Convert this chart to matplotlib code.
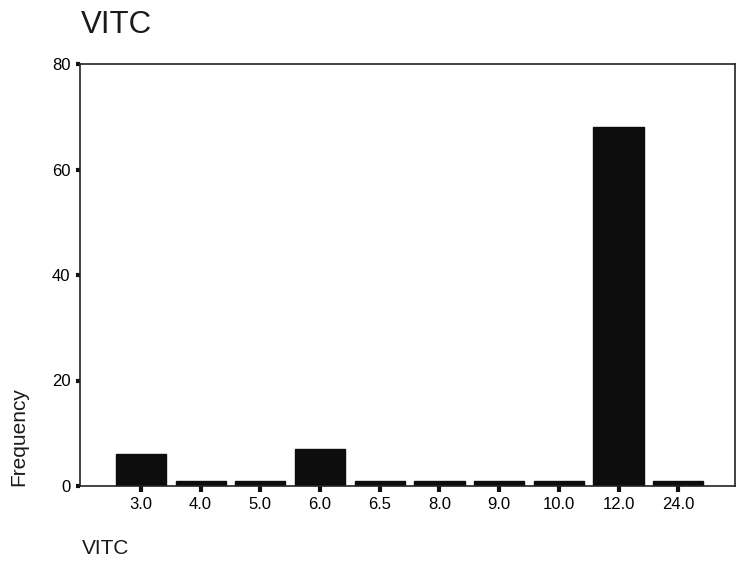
import matplotlib
matplotlib.use("Agg")
import matplotlib.pyplot as plt

plt.rcParams['font.family'] = ['Liberation Sans', 'DejaVu Sans']

categories = ['3.0', '4.0', '5.0', '6.0', '6.5', '8.0', '9.0', '10.0', '12.0', '24.0']
frequency = [6, 1, 1, 7, 1, 1, 1, 1, 68, 1]
y_ticks = [0, 20, 40, 60, 80]

fig = plt.figure(figsize=(7.38, 5.67), dpi=100)
ax = fig.add_axes([80 / 738, 1 - 486 / 567, 655 / 738, 422 / 567])

x = range(len(categories))
ax.bar(x, frequency, width=0.84, color='#0d0d0d', edgecolor='#0d0d0d')

ax.set_xlim(-1.02, 9.95)
ax.set_ylim(0, 80)
ax.set_xticks(list(x))
ax.set_xticklabels(categories, fontsize=12)
ax.set_yticks(y_ticks)
ax.set_yticklabels([str(t) for t in y_ticks], fontsize=12)
ax.tick_params(axis='x', direction='out', length=4, width=3, color='#111111', pad=4)
ax.tick_params(axis='y', direction='out', length=3, width=3, color='#111111', pad=4)

for s in ax.spines.values():
    s.set_color('#222222')
    s.set_linewidth(1.2)

fig.text(81 / 738, 1 - 25 / 567, 'VITC', fontsize=22.5, va='center', ha='left', color='#1a1a1a')
fig.text(82 / 738, 1 - 548 / 567, 'VITC', fontsize=15, va='center', ha='left', color='#1a1a1a')
fig.text(19 / 738, 1 - 486 / 567, 'Frequency', fontsize=15, rotation=90,
         va='bottom', ha='center', color='#1a1a1a')

fig.savefig('out.png', dpi=100, facecolor='white')
